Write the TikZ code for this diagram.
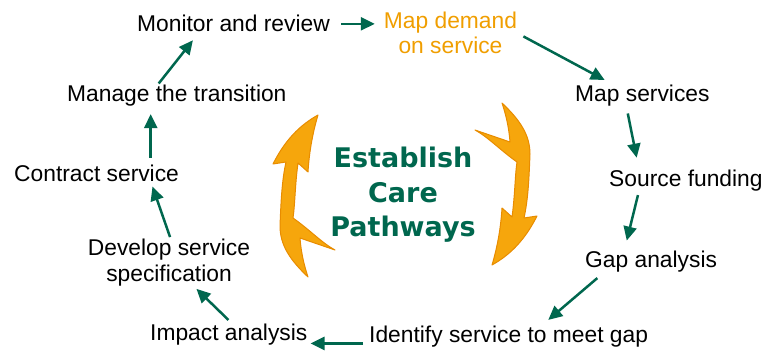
\documentclass[tikz,border=0pt]{standalone}
\usepackage{fontspec}
\setmainfont{Liberation Sans}
\newfontfamily\titlefont{DejaVu Sans}
\usetikzlibrary{arrows.meta}
\definecolor{pathgreen}{RGB}{0,103,78}
\definecolor{steporange}{RGB}{240,158,0}
\definecolor{arcfill}{RGB}{246,166,12}
\definecolor{arcedge}{RGB}{232,140,0}
\newcommand{\halfcycle}{(318,115) .. controls (312,135) and (309,155) .. (308,172) -- (298,163)
  .. controls (295,185) and (295,205) .. (293,218) .. controls (310,230) and (322,243) .. (335,250)
  -- (300,238) .. controls (301,252) and (304,265) .. (308,277) .. controls (290,260) and (280,245) .. (280,226)
  .. controls (281,200) and (282,180) .. (286,162) -- (273,164) .. controls (285,140) and (300,125) .. (318,115) -- cycle}

\begin{document}
\begin{tikzpicture}[x=1pt,y=-1pt,
  lbl/.style={inner sep=0pt,font=\fontsize{22.8}{25.5}\selectfont},
  conn/.style={draw=pathgreen,line width=2.5pt,-{Triangle[length=14pt,width=13pt]}},
  arc/.style={fill=arcfill,draw=arcedge,line width=1pt,line join=round}]
\useasboundingbox (0,0) rectangle (776,353);
\filldraw[arc] \halfcycle;
\begin{scope}[rotate around={180:(405,190)}]
\filldraw[arc] \halfcycle;
\end{scope}
\node[inner sep=0pt,align=center,anchor=base,text=pathgreen,
  font=\titlefont\bfseries\fontsize{27}{34.7}\selectfont] (title) at (403,236.7) {Establish\\Care\\Pathways};
\node[lbl,anchor=base west] (monitor) at (137,32) {Monitor and review};
\node[lbl,anchor=base,align=center,text=steporange] (demand) at (450.5,54) {Map demand\\on service};
\node[lbl,anchor=base west] (services) at (575,101) {Map services};
\node[lbl,anchor=base west] (funding) at (609,186) {Source funding};
\node[lbl,anchor=base west] (gap) at (585,267.3) {Gap analysis};
\node[lbl,anchor=base west] (identify) at (369,342) {Identify service to meet gap};
\node[lbl,anchor=base west] (impact) at (150,340) {Impact analysis};
\node[lbl,anchor=base,align=center] (develop) at (169,281) {Develop service\\specification};
\node[lbl,anchor=base west] (contract) at (14,181) {Contract service};
\node[lbl,anchor=base west] (manage) at (67,101) {Manage the transition};
\draw[conn,shorten <=11pt,shorten >=9pt] (monitor.east) -- (monitor.east -| demand.west);
\draw[conn,shorten <=7pt,shorten >=9pt] (demand.east) -- (services.160);
\draw[conn,shorten <=7.7pt,shorten >=11.8pt] (services.214) -- (funding.167);
\draw[conn,shorten <=4.3pt,shorten >=10.3pt] (funding.193) -- (gap.158);
\draw[conn,shorten <=9pt,shorten >=8.3pt] (gap.193) -- (identify.18);
\draw[conn,shorten <=6pt,shorten >=3pt] (identify.183) -- (identify.183 -| impact.east);
\draw[conn,shorten <=4.8pt,shorten >=4.2pt] (impact.74) -- (develop.-44);
\draw[conn,shorten <=1.8pt,shorten >=5.4pt] (develop.86) -- (contract.-9.5);
\draw[conn,shorten <=6.4pt,shorten >=8.2pt] (contract.9.3) -- (contract.9.3 |- manage.south);
\draw[conn,shorten <=1pt,shorten >=10pt] (manage.150) -- (monitor.194);
\end{tikzpicture}
\end{document}
